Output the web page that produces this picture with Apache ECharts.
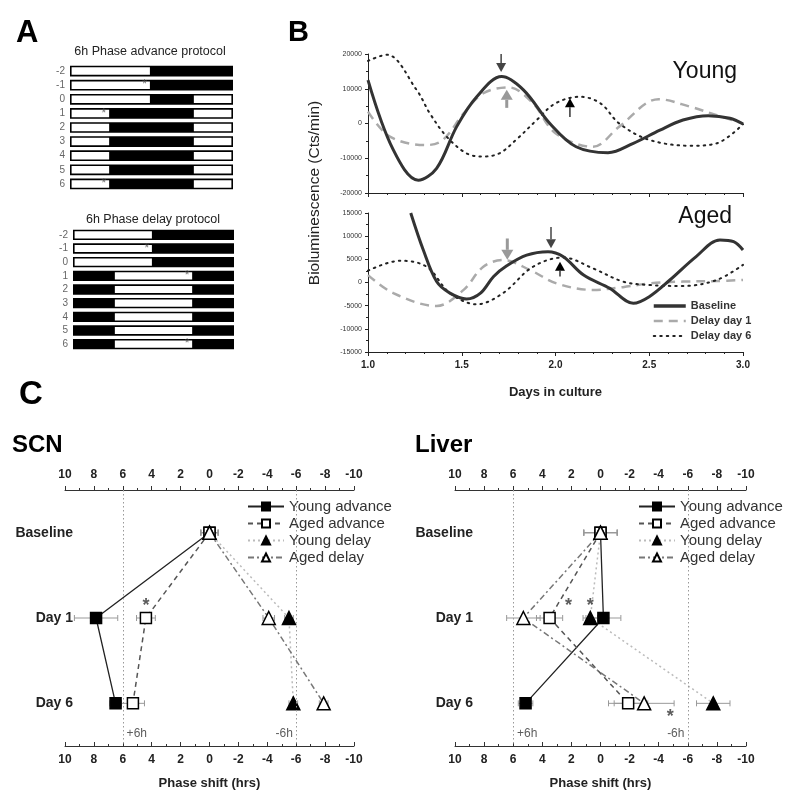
<!DOCTYPE html>
<html><head><meta charset="utf-8">
<script src="https://cdn.jsdelivr.net/npm/echarts@6/dist/echarts.min.js"></script>
<style>html,body{margin:0;padding:0;background:#fff}#c{width:788px;height:804px}</style>
</head><body><div id="c"></div><script>
// ---------- Panel A: protocols ----------
const protocolDays = ['-2','-1','0','1','2','3','4','5','6'];
const advanceLight = [[[0,12]],[[0,12]],[[0,12],[18,24]],[[0,6],[18,24]],[[0,6],[18,24]],[[0,6],[18,24]],[[0,6],[18,24]],[[0,6],[18,24]],[[0,6],[18,24]]];
const delayLight = [[[0,12]],[[0,12]],[[0,12]],[[6,18]],[[6,18]],[[6,18]],[[6,18]],[[6,18]],[[6,18]]];
const advanceStars = [[11,1],[5,3],[5,8]];
const delayStars = [[11,1],[17,3],[17,8]];

// ---------- Panel B: bioluminescence ----------
const youngBaseline = [[1.0,12500],[1.135,-7600],[1.268,-16300],[1.366,-12900],[1.473,-900],[1.58,7700],[1.713,13500],[1.83,9600],[1.97,0],[2.11,-6700],[2.28,-8400],[2.415,-5700],[2.557,-1900],[2.68,1000],[2.815,2250],[2.93,1500],[3.0,-150]];
const youngDelay1 = [[1.0,3400],[1.117,-3800],[1.313,-6200],[1.40,-4700],[1.51,2900],[1.615,8700],[1.75,10400],[1.88,5800],[2.0,-2800],[2.2,-6700],[2.34,-900],[2.55,7000],[2.72,4800],[2.86,2400],[3.0,0]];
const youngDelay6 = [[1.0,18000],[1.1,19800],[1.26,9600],[1.33,2900],[1.42,-3800],[1.526,-8600],[1.615,-9500],[1.70,-8600],[1.79,-4700],[1.90,1000],[2.0,5800],[2.13,7700],[2.24,5800],[2.34,0],[2.5,-4700],[2.72,-6400],[2.86,-5700],[3.0,-200]];
const agedBaseline = [[1.228,15000],[1.295,7000],[1.366,200],[1.437,-2300],[1.526,-3560],[1.6,-2300],[1.67,1300],[1.74,3600],[1.846,5900],[1.96,6650],[2.04,5600],[2.15,1600],[2.29,-1260],[2.415,-4500],[2.5,-3060],[2.61,540],[2.75,5600],[2.877,9170],[2.95,8800],[3.0,7000]];
const agedDelay1 = [[1.0,1600],[1.135,-2300],[1.366,-5070],[1.51,-1600],[1.615,3400],[1.72,4850],[1.864,2700],[2.006,-200],[2.2,-1600],[2.36,-1000],[2.5,-200],[2.68,200],[2.86,300],[3.0,540]];
const agedDelay6 = [[1.0,2550],[1.17,4700],[1.313,3400],[1.437,-2300],[1.58,-4700],[1.72,-2300],[1.88,3400],[2.04,5400],[2.2,3050],[2.36,200],[2.5,-540],[2.68,-750],[2.86,540],[3.0,3800]];
// arrows: [day, tailValue, tipValue]
const youngArrowsDark = [[1.71,20000,14800]];
const youngArrowsGray = [[1.74,4500,9700]];
const youngArrowsBlack = [[2.077,1900,7300]];
const agedArrowsDark = [[1.976,12000,7400]];
const agedArrowsGray = [[1.743,9500,4900]];
const agedArrowsBlack = [[2.024,1300,4500]];

// ---------- Panel C: phase shifts ----------
const shiftRows = ['Baseline','Day 1','Day 6'];
const scnYoungAdvance = [0, 7.85, 6.5];
const scnAgedAdvance = [0, 4.4, 5.3];
const scnYoungDelay = [0, -5.5, -5.8];
const scnAgedDelay = [0, -4.1, -7.9];
const scnYoungAdvanceErr = [0.6, 1.5, 0.4];
const scnAgedAdvanceErr = [0.6, 0.65, 0.8];
const scnYoungDelayErr = [0.6, 0.3, 0.3];
const scnAgedDelayErr = [0.6, 0.4, 0.3];
const scnStars = [[4.4,1]];
const liverYoungAdvance = [0, -0.2, 5.15];
const liverAgedAdvance = [0, 3.5, -1.9];
const liverYoungDelay = [0, 0.7, -7.75];
const liverAgedDelay = [0, 5.3, -3.0];
const liverYoungAdvanceErr = [1.15, 1.2, 0.5];
const liverAgedAdvanceErr = [1.15, 0.9, 1.35];
const liverYoungDelayErr = [1.15, 0.5, 1.15];
const liverAgedDelayErr = [1.15, 1.15, 2.06];
const liverStarsAbove = [[2.2,1],[0.7,1]];
const liverStarsBelow = [[-4.8,2]];
const refShifts = [6,-6];

const FF = 'Liberation Sans, Arial, sans-serif';

function protoData(light){
  const out=[];
  light.forEach((ints,i)=>{ out.push([i,0,24,0]); ints.forEach(iv=>out.push([i,iv[0],iv[1],1])); });
  return out;
}
function renderProto(params, api){
  const row=api.value(0), s=api.value(1), e=api.value(2), light=api.value(3);
  const a=api.coord([s,row]), b=api.coord([e,row]);
  const bh=api.size([0,1])[1]*0.76;
  if(!light) return {type:'rect', shape:{x:a[0], y:a[1]-bh/2, width:b[0]-a[0], height:bh}, style:{fill:'#000'}};
  const ins=1.6;
  return {type:'rect', shape:{x:a[0]+ins, y:a[1]-bh/2+ins, width:b[0]-a[0]-2*ins, height:bh-2*ins}, style:{fill:'#fff'}};
}
function arrowRenderer(color, w, hw, hl){
  return function(params, api){
    const x=api.value(0);
    const t=api.coord([x,api.value(1)]), p=api.coord([x,api.value(2)]);
    const dir = p[1]>t[1]?1:-1;
    return {type:'group', children:[
      {type:'line', shape:{x1:t[0],y1:t[1],x2:p[0],y2:p[1]-dir*hl}, style:{stroke:color, lineWidth:w}},
      {type:'polygon', shape:{points:[[p[0],p[1]],[p[0]-hw,p[1]-dir*hl],[p[0]+hw,p[1]-dir*hl]]}, style:{fill:color}}
    ]};
  };
}
function renderErr(params, api){
  const x=api.value(0), r=api.value(1), e=api.value(2);
  const a=api.coord([x-e,r]), b=api.coord([x+e,r]);
  const st={stroke:'#999', lineWidth:1};
  return {type:'group', children:[
    {type:'line', shape:{x1:a[0],y1:a[1],x2:b[0],y2:b[1]}, style:st},
    {type:'line', shape:{x1:a[0],y1:a[1]-3,x2:a[0],y2:a[1]+3}, style:st},
    {type:'line', shape:{x1:b[0],y1:b[1]-3,x2:b[0],y2:b[1]+3}, style:st}
  ]};
}
const pts = arr => arr.map((v,i)=>[v,i]);
const errs = (arr,e) => arr.map((v,i)=>[v,i,e[i]]);

const groupStyles = {
  'Young advance': {symbol:'rect', size:11, fill:'#000', line:{color:'#222', width:1.3, type:'solid'}},
  'Aged advance': {symbol:'rect', size:11, fill:'#fff', line:{color:'#555', width:1.5, type:[5,4]}},
  'Young delay': {symbol:'triangle', size:13, fill:'#000', line:{color:'#bbb', width:1.5, type:[2,3]}},
  'Aged delay': {symbol:'triangle', size:13, fill:'#fff', line:{color:'#777', width:1.5, type:[6,3,2,3]}}
};
function phaseSeries(xi, yi, name, vals, err){
  const g = groupStyles[name];
  return [
    {type:'custom', xAxisIndex:xi, yAxisIndex:yi, renderItem:renderErr, data:errs(vals,err), encode:{x:0,y:1}, z:1, silent:true},
    {type:'line', name:name, xAxisIndex:xi, yAxisIndex:yi, data:pts(vals), symbol:g.symbol, symbolSize:g.size, showSymbol:true,
     itemStyle:{color:g.fill, borderColor:'#000', borderWidth:1.5}, lineStyle:g.line, z:3}
  ];
}
function starSeries(xi, yi, data, pos){
  return {type:'scatter', xAxisIndex:xi, yAxisIndex:yi, data:data, symbolSize:1, itemStyle:{color:'rgba(0,0,0,0)'},
    label:{show:true, formatter:'*', position:pos, distance:pos==='top'?2:4, fontSize:18, fontWeight:'bold', color:'#333', fontFamily:FF}, z:5, silent:true};
}
function refLineSeries(xi, yi){
  return {type:'scatter', xAxisIndex:xi, yAxisIndex:yi, data:[], symbolSize:0,
    markLine:{silent:true, symbol:'none', lineStyle:{color:'#999', type:[1.5,2.5], width:1}, label:{show:false},
      data: refShifts.map(v=>({xAxis:v}))}, z:0};
}
function refLabelSeries(xi, yi){
  return {type:'scatter', xAxisIndex:xi, yAxisIndex:yi, symbolSize:1, itemStyle:{color:'rgba(0,0,0,0)'}, silent:true,
    data: refShifts.map(v=>({value:[v,2], label:{offset:[v>0?14:-12, 30]}})),
    label:{show:true, position:'inside', formatter:p=>(p.value[0]>0?'+':'-')+Math.abs(p.value[0])+'h', fontSize:12, color:'#333', fontFamily:FF}};
}

const protoX = (gi)=>({gridIndex:gi, type:'value', min:0, max:24, show:false});
const protoY = (gi)=>({gridIndex:gi, type:'category', data:protocolDays, inverse:true, axisLine:{show:false}, axisTick:{show:false},
  axisLabel:{color:'#666', fontSize:10, margin:5, fontFamily:FF}});
const bX = (gi, labels)=>({gridIndex:gi, type:'value', min:1, max:3, interval:0.5,
  axisLine:{show:true, onZero:false, lineStyle:{color:'#222', width:1}}, axisTick:{show:true, length:4, lineStyle:{color:'#222'}},
  minorTick:{show:true, splitNumber:5, length:2, lineStyle:{color:'#222'}}, splitLine:{show:false},
  axisLabel:{show:labels, color:'#222', fontSize:10, fontWeight:'bold', margin:8, formatter:v=>v.toFixed(1), fontFamily:FF},
  name: labels?'Days in culture':'', nameLocation:'middle', nameGap:34, nameTextStyle:{fontSize:13, fontWeight:'bold', color:'#222', fontFamily:FF}});
const bY = (gi, mn, mx, iv)=>({gridIndex:gi, type:'value', min:mn, max:mx, interval:iv,
  axisLine:{show:true, lineStyle:{color:'#222'}}, axisTick:{show:true, length:3, lineStyle:{color:'#222'}},
  minorTick:{show:true, splitNumber:2, length:2, lineStyle:{color:'#222'}}, splitLine:{show:false},
  axisLabel:{color:'#333', fontSize:7, margin:6, formatter:v=>String(v), fontFamily:FF}});
const cX = (gi, pos)=>({gridIndex:gi, type:'value', position:pos, min:-10, max:10, interval:2, inverse:true,
  axisLine:{show:true, onZero:false, lineStyle:{color:'#333', width:1}},
  axisTick:{show:true, inside:pos==='bottom', length:4, lineStyle:{color:'#333'}},
  minorTick:{show:true, splitNumber:2, length:2, lineStyle:{color:'#333'}}, splitLine:{show:false},
  axisLabel:{color:'#222', fontSize:12, fontWeight:'bold', margin:pos==='top'?9:8, fontFamily:FF},
  name: pos==='bottom'?'Phase shift (hrs)':'', nameLocation:'middle', nameGap:31, nameTextStyle:{fontSize:13, fontWeight:'bold', color:'#222', fontFamily:FF}});
const cY = (gi, m)=>({gridIndex:gi, type:'category', data:shiftRows, inverse:true, axisLine:{show:false}, axisTick:{show:false},
  axisLabel:{color:'#222', fontSize:14, fontWeight:'bold', margin:m, fontFamily:FF}});

const bLine = (xi, name, data, style)=>({type:'line', name:name, xAxisIndex:xi, yAxisIndex:xi, data:data, smooth:0.35, symbol:'none',
  itemStyle:{color:style.color}, lineStyle:style, z:2});
const baseStyle = {color:'#333', width:3, type:'solid'};
const d1Style = {color:'#aaa', width:2.5, type:[9,6]};
const d6Style = {color:'#222', width:2, type:[1.5,5], cap:'round'};

const option = {
  animation:false,
  backgroundColor:'#fff',
  textStyle:{fontFamily:FF},
  grid:[
    {left:70, top:64, width:163, height:127, outerBoundsMode:'none'},
    {left:73, top:228, width:161, height:123, outerBoundsMode:'none'},
    {left:368, top:54, width:375, height:139, outerBoundsMode:'none'},
    {left:368, top:213, width:375, height:139, outerBoundsMode:'none'},
    {left:65, top:490, width:289, height:256, outerBoundsMode:'none'},
    {left:455, top:490, width:291, height:256, outerBoundsMode:'none'}
  ],
  xAxis:[protoX(0), protoX(1), bX(2,false), bX(3,true), cX(4,'top'), cX(4,'bottom'), cX(5,'top'), cX(5,'bottom')],
  yAxis:[protoY(0), protoY(1), bY(2,-20000,20000,10000), bY(3,-15000,15000,5000), cY(4,-8), cY(5,-18)],
  legend:[
    {data:[{name:'Baseline', lineStyle:{width:3.5}}, {name:'Delay day 1', lineStyle:{width:2.5}}, {name:'Delay day 6', lineStyle:{width:2}}],
     orient:'vertical', left:652, top:300, itemWidth:32, itemHeight:8, itemGap:3, padding:0, selectedMode:false,
     itemStyle:{opacity:0}, textStyle:{fontSize:11, fontWeight:'bold', color:'#333', lineHeight:12, fontFamily:FF}},
    {data:['Young advance','Aged advance','Young delay','Aged delay'], orient:'vertical', left:245, top:498, itemWidth:36, itemHeight:10, itemGap:2, padding:[1,4,3,2], backgroundColor:'#fff', selectedMode:false,
     textStyle:{fontSize:15, color:'#333', lineHeight:15, fontFamily:FF}},
    {data:['Young advance','Aged advance','Young delay','Aged delay'], orient:'vertical', left:636, top:498, itemWidth:36, itemHeight:10, itemGap:2, padding:[1,4,3,2], backgroundColor:'#fff', selectedMode:false,
     textStyle:{fontSize:15, color:'#333', lineHeight:15, fontFamily:FF}}
  ],
  graphic:[
    {type:'text', left:16, top:18, style:{text:'A', fontSize:31, fontWeight:'bold', fill:'#000', fontFamily:FF}},
    {type:'text', left:288, top:18, style:{text:'B', fontSize:29, fontWeight:'bold', fill:'#000', fontFamily:FF}},
    {type:'text', left:19, top:378, style:{text:'C', fontSize:33, fontWeight:'bold', fill:'#000', fontFamily:FF}},
    {type:'text', x:150, y:52, style:{text:'6h Phase advance protocol', fontSize:12.5, fill:'#222', align:'center', verticalAlign:'middle', fontFamily:FF}},
    {type:'text', x:153, y:220, style:{text:'6h Phase delay protocol', fontSize:12.5, fill:'#222', align:'center', verticalAlign:'middle', fontFamily:FF}},
    {type:'text', x:737, y:72, style:{text:'Young', fontSize:23, fill:'#111', align:'right', verticalAlign:'middle', fontFamily:FF}},
    {type:'text', x:732, y:217, style:{text:'Aged', fontSize:23, fill:'#111', align:'right', verticalAlign:'middle', fontFamily:FF}},
    {type:'text', x:315, y:193, rotation:Math.PI/2, style:{text:'Bioluminescence (Cts/min)', fontSize:15.5, fill:'#222', align:'center', verticalAlign:'middle', fontFamily:FF}},
    {type:'text', left:12, top:433, style:{text:'SCN', fontSize:24, fontWeight:'bold', fill:'#000', fontFamily:FF}},
    {type:'text', left:415, top:433, style:{text:'Liver', fontSize:24, fontWeight:'bold', fill:'#000', fontFamily:FF}}
  ],
  series:[
    {type:'custom', xAxisIndex:0, yAxisIndex:0, renderItem:renderProto, data:protoData(advanceLight), encode:{x:[1,2], y:0}, silent:true},
    {type:'custom', xAxisIndex:1, yAxisIndex:1, renderItem:renderProto, data:protoData(delayLight), encode:{x:[1,2], y:0}, silent:true},
    {type:'scatter', xAxisIndex:0, yAxisIndex:0, data:advanceStars, symbolSize:1, itemStyle:{color:'rgba(0,0,0,0)'}, silent:true,
      label:{show:true, position:'inside', formatter:'*', fontSize:12, color:'#555', fontFamily:FF}, z:5},
    {type:'scatter', xAxisIndex:1, yAxisIndex:1, data:delayStars, symbolSize:1, itemStyle:{color:'rgba(0,0,0,0)'}, silent:true,
      label:{show:true, position:'inside', formatter:'*', fontSize:12, color:'#555', fontFamily:FF}, z:5},

    bLine(2,'Delay day 1',youngDelay1,d1Style),
    bLine(2,'Delay day 6',youngDelay6,d6Style),
    bLine(2,'Baseline',youngBaseline,baseStyle),
    bLine(3,'Delay day 1',agedDelay1,d1Style),
    bLine(3,'Delay day 6',agedDelay6,d6Style),
    bLine(3,'Baseline',agedBaseline,baseStyle),
    {type:'custom', xAxisIndex:2, yAxisIndex:2, renderItem:arrowRenderer('#444',1.5,5,9), data:youngArrowsDark, encode:{x:0,y:[1,2]}, z:6, silent:true},
    {type:'custom', xAxisIndex:2, yAxisIndex:2, renderItem:arrowRenderer('#999',3,6,10), data:youngArrowsGray, encode:{x:0,y:[1,2]}, z:6, silent:true},
    {type:'custom', xAxisIndex:2, yAxisIndex:2, renderItem:arrowRenderer('#000',1.2,5,9), data:youngArrowsBlack, encode:{x:0,y:[1,2]}, z:6, silent:true},
    {type:'custom', xAxisIndex:3, yAxisIndex:3, renderItem:arrowRenderer('#444',1.5,5,9), data:agedArrowsDark, encode:{x:0,y:[1,2]}, z:6, silent:true},
    {type:'custom', xAxisIndex:3, yAxisIndex:3, renderItem:arrowRenderer('#999',3,6,10), data:agedArrowsGray, encode:{x:0,y:[1,2]}, z:6, silent:true},
    {type:'custom', xAxisIndex:3, yAxisIndex:3, renderItem:arrowRenderer('#000',1.2,5,9), data:agedArrowsBlack, encode:{x:0,y:[1,2]}, z:6, silent:true},

    refLineSeries(5,4), refLabelSeries(5,4),
    ...phaseSeries(5,4,'Young advance',scnYoungAdvance,scnYoungAdvanceErr),
    ...phaseSeries(5,4,'Aged advance',scnAgedAdvance,scnAgedAdvanceErr),
    ...phaseSeries(5,4,'Young delay',scnYoungDelay,scnYoungDelayErr),
    ...phaseSeries(5,4,'Aged delay',scnAgedDelay,scnAgedDelayErr),
    starSeries(5,4,scnStars,'top'),

    refLineSeries(7,5), refLabelSeries(7,5),
    ...phaseSeries(7,5,'Young advance',liverYoungAdvance,liverYoungAdvanceErr),
    ...phaseSeries(7,5,'Aged advance',liverAgedAdvance,liverAgedAdvanceErr),
    ...phaseSeries(7,5,'Young delay',liverYoungDelay,liverYoungDelayErr),
    ...phaseSeries(7,5,'Aged delay',liverAgedDelay,liverAgedDelayErr),
    starSeries(7,5,liverStarsAbove,'top'),
    starSeries(7,5,liverStarsBelow,'bottom')
  ]
};
const chart = echarts.init(document.getElementById('c'));
chart.setOption(option);
</script></body></html>
